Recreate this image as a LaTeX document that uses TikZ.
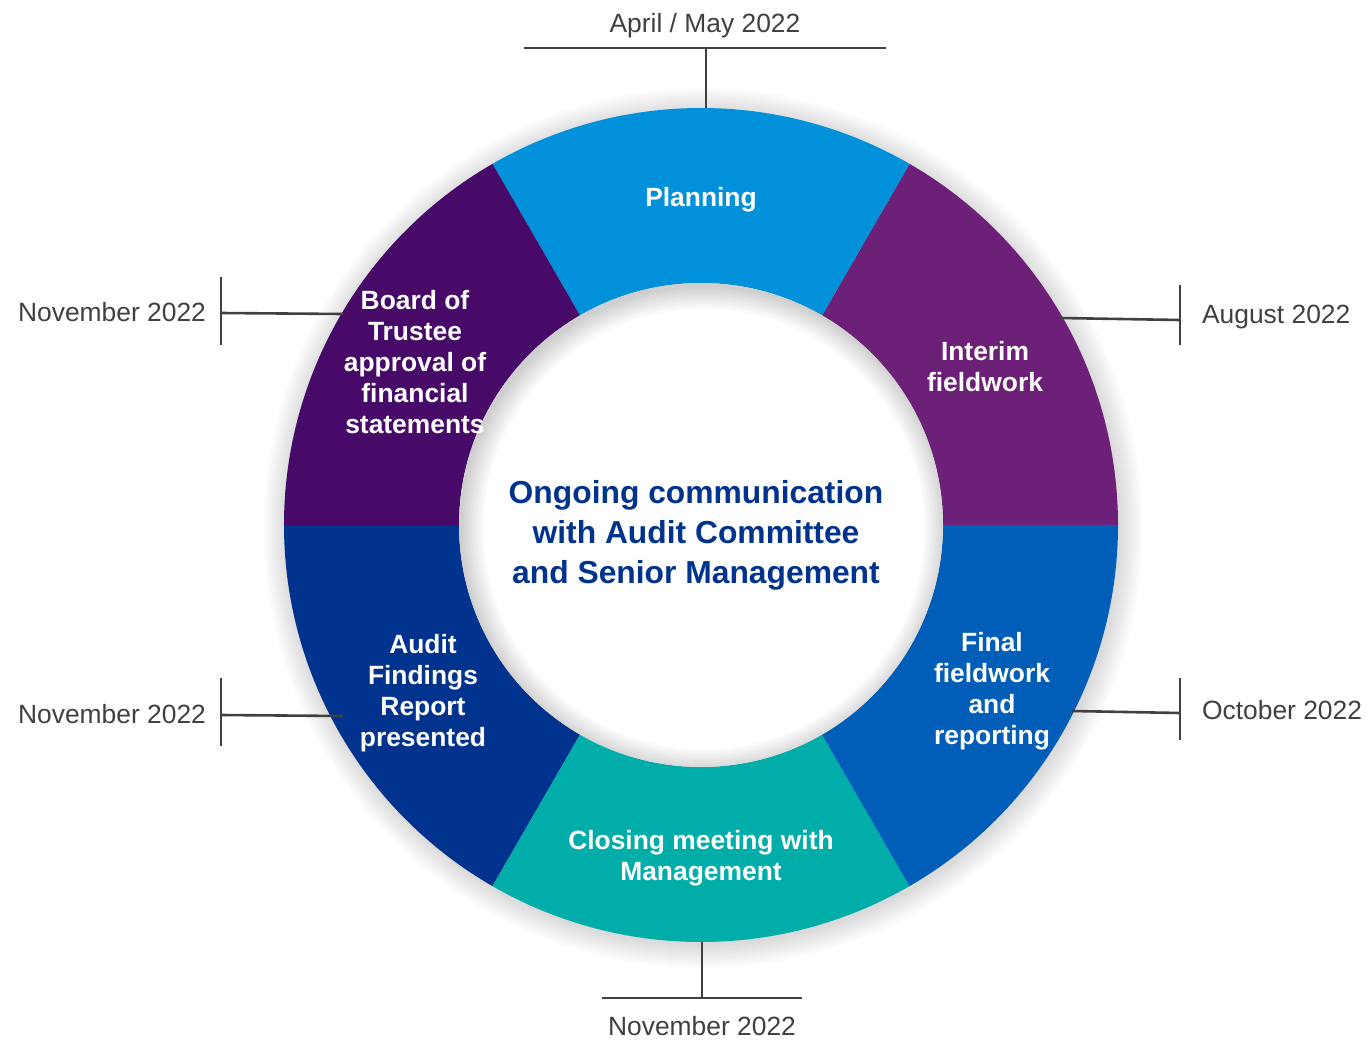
\documentclass[tikz,border=0pt]{standalone}
\usepackage{fontspec}
\setmainfont{Liberation Sans}

\definecolor{planblue}{HTML}{0091DA}
\definecolor{interimpurple}{HTML}{6D2077}
\definecolor{finalblue}{HTML}{005EB8}
\definecolor{closingteal}{HTML}{00ADA8}
\definecolor{auditnavy}{HTML}{00338D}
\definecolor{boardplum}{HTML}{470A68}
\definecolor{tickgrey}{HTML}{404040}

\begin{document}
\begin{tikzpicture}[x=0.5pt, y=0.5pt,
  phase/.style={text=white, font=\fontsize{13.2}{15.5}\selectfont\bfseries, align=center},
  datelabel/.style={text=tickgrey, font=\fontsize{13.2}{16}\selectfont},
  tickline/.style={draw=tickgrey, line width=1.3pt}]

  \useasboundingbox (-701,-514) rectangle (667,525);

  % bayangan luar cincin
  \foreach \r in {418,420,...,440}
    \fill[black, opacity=0.012] (2,-3) circle (\r);

  % segmen cincin
  \fill[interimpurple] (0:417) arc[start angle=0, end angle=60, radius=417] -- (60:242) arc[start angle=60, end angle=0, radius=242] -- cycle;
  \fill[planblue] (60:417) arc[start angle=60, end angle=120, radius=417] -- (120:242) arc[start angle=120, end angle=60, radius=242] -- cycle;
  \fill[boardplum] (120:417) arc[start angle=120, end angle=180, radius=417] -- (180:242) arc[start angle=180, end angle=120, radius=242] -- cycle;
  \fill[auditnavy] (180:417) arc[start angle=180, end angle=240, radius=417] -- (240:242) arc[start angle=240, end angle=180, radius=242] -- cycle;
  \fill[closingteal] (240:417) arc[start angle=240, end angle=300, radius=417] -- (300:242) arc[start angle=300, end angle=240, radius=242] -- cycle;
  \fill[finalblue] (300:417) arc[start angle=300, end angle=360, radius=417] -- (360:242) arc[start angle=360, end angle=300, radius=242] -- cycle;

  % lubang tengah dengan bayangan dalam
  \fill[white] (0,0) circle (242);
  \begin{scope}
    \clip (0,0) circle (242);
    \foreach \r in {220,222,...,242}
      \fill[black, opacity=0.014, even odd rule] (3,-4) circle (300) (3,-4) circle (\r);
  \end{scope}

  % teks fase
  \node[phase] (plan) at (0,325) {Planning};
  \node[phase] (interim) at (284,158) {Interim\\fieldwork};
  \node[phase] (final) at (291,-166) {Final\\fieldwork\\and\\reporting};
  \node[phase] (closing) at (0,-333) {Closing meeting with\\Management};
  \node[phase] (audit) at (-278,-168) {Audit\\Findings\\Report\\presented};
  \node[phase] (board) at (-286,163) {Board of\\Trustee\\approval of\\financial\\statements};

  \node[text=auditnavy, font=\fontsize{15.9}{20}\selectfont\bfseries, align=center] (comms) at (-5,-10)
    {Ongoing communication\\with Audit Committee\\and Senior Management};

  % titik sambung di tepi cincin dan ujung garis
  \coordinate (planEdge) at (5,417);
  \coordinate (planBar) at (5,477);
  \coordinate (planBarL) at (-177,477);
  \coordinate (planBarR) at (185,477);

  \coordinate (interimEdge) at (359,207);
  \coordinate (interimBar) at (479,205);
  \coordinate (interimBarT) at (479,240);
  \coordinate (interimBarB) at (479,180);

  \coordinate (finalEdge) at (371,-186);
  \coordinate (finalBar) at (479,-188);
  \coordinate (finalBarT) at (479,-153);
  \coordinate (finalBarB) at (479,-215);

  \coordinate (closingEdge) at (1,-417);
  \coordinate (closingBar) at (1,-473);
  \coordinate (closingBarL) at (-99,-473);
  \coordinate (closingBarR) at (101,-473);

  \coordinate (auditEdge) at (-358,-191);
  \coordinate (auditBar) at (-480,-190);
  \coordinate (auditBarT) at (-480,-153);
  \coordinate (auditBarB) at (-480,-221);

  \coordinate (boardEdge) at (-358,211);
  \coordinate (boardBar) at (-480,212);
  \coordinate (boardBarT) at (-480,248);
  \coordinate (boardBarB) at (-480,180);

  % garis penanda waktu
  \draw[tickline] (planEdge) -- (planBar);
  \draw[tickline] (planBarL) -- (planBarR);
  \draw[tickline] (interimEdge) -- (interimBar);
  \draw[tickline] (interimBarT) -- (interimBarB);
  \draw[tickline] (finalEdge) -- (finalBar);
  \draw[tickline] (finalBarT) -- (finalBarB);
  \draw[tickline] (closingEdge) -- (closingBar);
  \draw[tickline] (closingBarL) -- (closingBarR);
  \draw[tickline] (auditEdge) -- (auditBar);
  \draw[tickline] (auditBarT) -- (auditBarB);
  \draw[tickline] (boardEdge) -- (boardBar);
  \draw[tickline] (boardBarT) -- (boardBarB);

  % label tanggal
  \node[datelabel] (planDate) at (4,499) {April / May 2022};
  \node[datelabel, anchor=west] (interimDate) at (494,208) {August 2022};
  \node[datelabel, anchor=west] (finalDate) at (494,-185) {October 2022};
  \node[datelabel] (closingDate) at (1,-501) {November 2022};
  \node[datelabel, anchor=east] (auditDate) at (-488,-189) {November 2022};
  \node[datelabel, anchor=east] (boardDate) at (-488,213) {November 2022};

\end{tikzpicture}
\end{document}
